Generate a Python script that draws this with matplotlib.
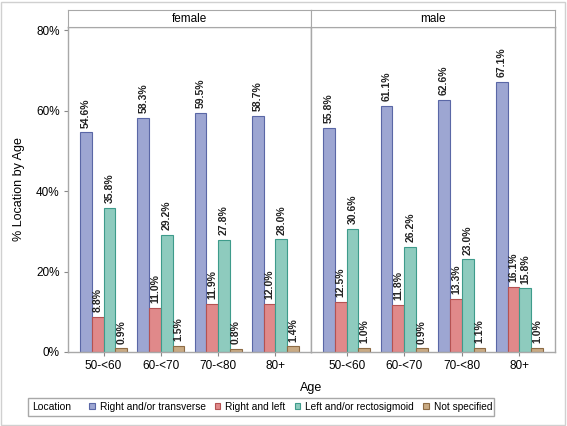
import matplotlib.pyplot as plt
from matplotlib.patches import Patch, Rectangle
import numpy as np

plt.rcParams['font.family'] = ['Liberation Sans', 'DejaVu Sans']

ages = ['50-<60', '60-<70', '70-<80', '80+']
sexes = ['female', 'male']
locations = ['Right and/or transverse', 'Right and left',
             'Left and/or rectosigmoid', 'Not specified']

# percent by location, one list per sex (order follows ages)
female_right_transverse = [54.6, 58.3, 59.5, 58.7]
female_right_left = [8.8, 11.0, 11.9, 12.0]
female_left_recto = [35.8, 29.2, 27.8, 28.0]
female_not_spec = [0.9, 1.5, 0.8, 1.4]

male_right_transverse = [55.8, 61.1, 62.6, 67.1]
male_right_left = [12.5, 11.8, 13.3, 16.1]
male_left_recto = [30.6, 26.2, 23.0, 15.8]
male_not_spec = [1.0, 0.9, 1.1, 1.0]

data = {
    'female': [female_right_transverse, female_right_left, female_left_recto, female_not_spec],
    'male': [male_right_transverse, male_right_left, male_left_recto, male_not_spec],
}

fills = ['#9da6d2', '#e0898a', '#8ecbbe', '#c9aa83']
edges = ['#5a67a6', '#b45252', '#3e9b8b', '#8d6b45']
frame_col = '#a8a8a8'

W, H = 567, 426
fig = plt.figure(figsize=(W / 100, H / 100), dpi=100)

# outer border
fig.patches.append(Rectangle((1 / W, 1 / H), 1 - 3 / W, 1 - 3 / H, transform=fig.transFigure,
                             fill=False, edgecolor='#d0d0d0', linewidth=1))

left, mid, right = 68 / W, 311 / W, 555 / W
bottom = 1 - 352 / H
top = 1 - 27 / H
strip_top = 1 - 10 / H

x = np.arange(len(ages))
bw = 0.205

for i, sex in enumerate(sexes):
    x0 = [left, mid][i]
    x1 = [mid, right][i]
    ax = fig.add_axes([x0, bottom, x1 - x0, top - bottom])
    for k, vals in enumerate(data[sex]):
        pos = x + (k - 1.5) * bw
        ax.bar(pos, vals, width=bw, color=fills[k], edgecolor=edges[k], linewidth=0.8)
        for p, v in zip(pos, vals):
            ax.text(p, v + 1.2, f'{v:.1f}%', rotation=90, ha='center', va='bottom',
                    fontsize=7.5, fontweight='bold', color='#222222')
    ax.set_xlim(-0.62, 3.62)
    ax.set_ylim(0, 80.8)
    ax.set_xticks(x)
    ax.set_xticklabels(ages, fontsize=8.5)
    ax.set_yticks([0, 20, 40, 60, 80])
    if i == 0:
        ax.set_yticklabels(['0%', '20%', '40%', '60%', '80%'], fontsize=8.5)
        ax.set_ylabel('% Location by Age', fontsize=9, labelpad=8)
    else:
        ax.tick_params(axis='y', left=False, labelleft=False)
    ax.tick_params(axis='both', length=3, color='#888888', pad=3)
    for s in ax.spines.values():
        s.set_color(frame_col)
        s.set_linewidth(1)

    # panel header strip
    sax = fig.add_axes([x0, top, x1 - x0, strip_top - top])
    sax.set_xticks([])
    sax.set_yticks([])
    for s in sax.spines.values():
        s.set_color(frame_col)
    sax.text(0.5, 0.5, sex, ha='center', va='center', fontsize=8.5, transform=sax.transAxes)

fig.text((left + right) / 2, 1 - 388 / H, 'Age', ha='center', va='center', fontsize=9)

# legend
fig.patches.append(Rectangle((28 / W, 1 - 416 / H), 466 / W, 18 / H, transform=fig.transFigure,
                             fill=False, edgecolor=frame_col, linewidth=1))
fig.text(32 / W, 1 - 407 / H, 'Location', ha='left', va='center', fontsize=7.5)
handles = [Patch(facecolor=fills[k], edgecolor=edges[k], linewidth=0.8) for k in range(4)]
fig.legend(handles, locations, loc='center left', bbox_to_anchor=(89 / W, 1 - 407 / H),
           ncol=4, frameon=False, fontsize=7.3, handlelength=0.55, handleheight=0.55,
           handletextpad=0.5, columnspacing=0.9, borderpad=0, borderaxespad=0)

fig.savefig('out.png', dpi=100)
